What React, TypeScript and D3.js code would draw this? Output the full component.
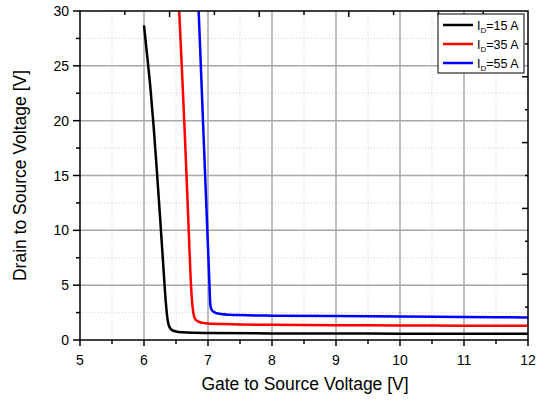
import React from "react";
import * as d3 from "d3";

const xTicks = [5, 6, 7, 8, 9, 10, 11, 12];
const yTicks = [0, 5, 10, 15, 20, 25, 30];
const xMinor = [5.5, 6.5, 7.5, 8.5, 9.5, 10.5, 11.5];
const yMinor = [2.5, 7.5, 12.5, 17.5, 22.5, 27.5];

const seriesNames = ["15 A", "35 A", "55 A"];
const seriesColors = ["#000000", "#ff0000", "#0000ff"];

const vgs15 = [6.0, 6.05, 6.1, 6.15, 6.2, 6.25, 6.3, 6.34, 6.37, 6.4, 6.44, 6.5, 6.6, 6.8, 7.0, 8, 9, 10, 11, 12];
const vds15 = [28.7, 25.9, 23.0, 19.5, 15.5, 11.3, 6.9, 3.5, 1.8, 1.15, 0.9, 0.78, 0.7, 0.65, 0.63, 0.6, 0.59, 0.58, 0.57, 0.56];

const vgs35 = [6.55, 6.59, 6.63, 6.67, 6.7, 6.73, 6.75, 6.77, 6.8, 6.85, 6.92, 7.0, 7.25, 7.5, 8, 9, 10, 11, 12];
const vds35 = [30, 25.0, 19.8, 14.2, 9.8, 5.5, 3.6, 2.5, 1.9, 1.68, 1.56, 1.5, 1.45, 1.42, 1.38, 1.35, 1.33, 1.31, 1.3];

const vgs55 = [6.854, 6.88, 6.91, 6.95, 6.98, 7.02, 7.035, 7.05, 7.08, 7.13, 7.2, 7.34, 7.5, 8, 9, 10, 11, 12];
const vds55 = [30, 26.2, 21.7, 15.8, 11.4, 5.5, 3.3, 2.85, 2.6, 2.45, 2.37, 2.3, 2.27, 2.22, 2.18, 2.15, 2.1, 2.05];

const seriesX = [vgs15, vgs35, vgs55];
const seriesY = [vds15, vds35, vds55];

const W = 542;
const H = 400;
const L = 80, R = 528, T = 11, B = 340;
const FONT = "'Liberation Sans', Arial, sans-serif";

export default function App() {
  const x = d3.scaleLinear().domain([5, 12]).range([L, R]);
  const y = d3.scaleLinear().domain([0, 30]).range([B, T]);
  const topS = d3.scaleLinear().domain([0, 10]).range([L, R]);
  const rightS = d3.scaleLinear().domain([0, 10]).range([B, T]);
  const line = d3
    .line<[number, number]>()
    .x((d) => x(d[0]))
    .y((d) => y(d[1]))
    .curve(d3.curveMonotoneX);

  const mirror = d3.range(1, 10);

  return (
    <svg
      width={W}
      height={H}
      style={{ position: "absolute", left: 0, top: 0, display: "block", background: "#fff" }}
      fontFamily={FONT}
    >
      <defs>
        <clipPath id="plotclip">
          <rect x={L} y={T} width={R - L} height={B - T} />
        </clipPath>
      </defs>
      {xMinor.map((v) => (
        <line key={"xm" + v} x1={x(v)} x2={x(v)} y1={T} y2={B} stroke="#cfcfcf" strokeWidth={1} strokeDasharray="1,2" />
      ))}
      {yMinor.map((v) => (
        <line key={"ym" + v} x1={L} x2={R} y1={y(v)} y2={y(v)} stroke="#cfcfcf" strokeWidth={1} strokeDasharray="1,2" />
      ))}
      {xTicks.slice(1, -1).map((v) => (
        <line key={"xg" + v} x1={x(v)} x2={x(v)} y1={T} y2={B} stroke="#a8a8a8" strokeWidth={1.5} />
      ))}
      {yTicks.slice(1, -1).map((v) => (
        <line key={"yg" + v} x1={L} x2={R} y1={y(v)} y2={y(v)} stroke="#a8a8a8" strokeWidth={1.5} />
      ))}
      <g clipPath="url(#plotclip)">
        {seriesX.map((xs, i) => (
          <path
            key={"s" + i}
            d={line(xs.map((v, j) => [v, seriesY[i][j]] as [number, number])) || ""}
            fill="none"
            stroke={seriesColors[i]}
            strokeWidth={2.5}
            strokeLinejoin="round"
          />
        ))}
      </g>
      <rect x={L} y={T} width={R - L} height={B - T} fill="none" stroke="#000" strokeWidth={1.5} />
      {xTicks.map((v) => (
        <g key={"xt" + v}>
          <line x1={x(v)} x2={x(v)} y1={B} y2={B + 6} stroke="#000" strokeWidth={1.5} />
          <text x={x(v)} y={B + 25} textAnchor="middle" fontSize={14} fill="#000">
            {v}
          </text>
        </g>
      ))}
      {xMinor.map((v) => (
        <line key={"xmt" + v} x1={x(v)} x2={x(v)} y1={B} y2={B + 4} stroke="#000" strokeWidth={1.5} />
      ))}
      {yTicks.map((v) => (
        <g key={"yt" + v}>
          <line x1={L - 7} x2={L} y1={y(v)} y2={y(v)} stroke="#000" strokeWidth={1.5} />
          <text x={L - 11} y={y(v) + 5} textAnchor="end" fontSize={14} fill="#000">
            {v}
          </text>
        </g>
      ))}
      {yMinor.map((v) => (
        <line key={"ymt" + v} x1={L - 4} x2={L} y1={y(v)} y2={y(v)} stroke="#000" strokeWidth={1.5} />
      ))}
      {mirror.map((v) => (
        <line key={"tt" + v} x1={topS(v)} x2={topS(v)} y1={T} y2={T + (v % 2 === 0 ? 6 : 4)} stroke="#000" strokeWidth={1.5} />
      ))}
      {mirror.map((v) => (
        <line key={"rt" + v} x1={R - (v % 2 === 0 ? 6 : 3)} x2={R} y1={rightS(v)} y2={rightS(v)} stroke="#000" strokeWidth={1.5} />
      ))}
      <text x={(L + R) / 2 + 1} y={390} textAnchor="middle" fontSize={17.5} fill="#000">
        Gate to Source Voltage [V]
      </text>
      <text
        transform={`translate(26,${(T + B) / 2}) rotate(-90)`}
        textAnchor="middle"
        fontSize={17.5}
        fill="#000"
      >
        Drain to Source Voltage [V]
      </text>
      <rect x={438} y={14} width={86} height={59} fill="#fff" stroke="#000" strokeWidth={1} />
      {seriesNames.map((name, i) => {
        const cy = 25 + i * 19;
        return (
          <g key={"lg" + i}>
            <line x1={443} x2={473} y1={cy} y2={cy} stroke={seriesColors[i]} strokeWidth={2.5} />
            <text x={477} y={cy + 4.5} fontSize={12.5} fill="#000">
              I
              <tspan fontSize={8} dy={3}>
                D
              </tspan>
              <tspan dy={-3}>{"=" + name}</tspan>
            </text>
          </g>
        );
      })}
    </svg>
  );
}
